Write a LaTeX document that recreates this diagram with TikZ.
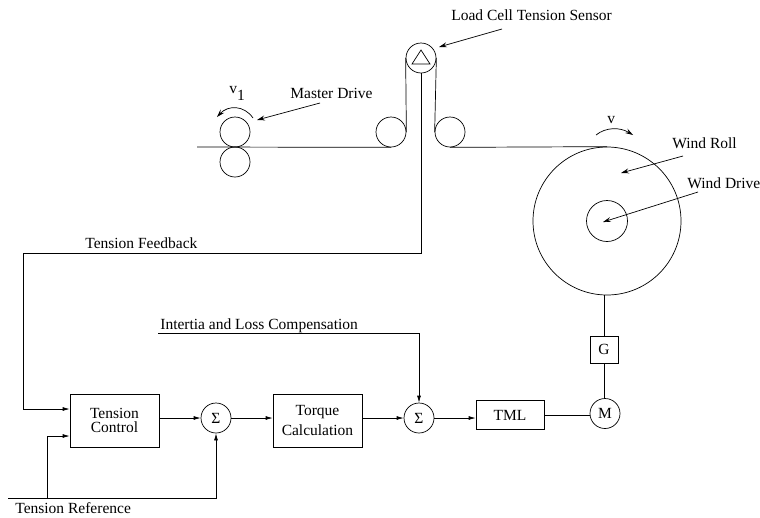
\documentclass[tikz,border=0pt]{standalone}
\usepackage{fontspec}
\setmainfont{Liberation Serif}
\usetikzlibrary{arrows.meta}
\tikzset{
blockbox/.style={draw,rectangle,inner sep=0pt},
junction/.style={draw,circle,minimum size=30pt,inner sep=0pt},
roller/.style={draw,circle,minimum size=30pt,inner sep=0pt},
signal/.style={-{Latex[length=7pt,width=4pt]}},
pointer/.style={-{Stealth[length=8pt,width=5pt,inset=3pt]}},
caption/.style={inner sep=0pt,anchor=base west}
}
\begin{document}
\begin{tikzpicture}[x=1pt,y=-1pt,line width=0.7pt,font=\fontsize{15.5}{16}\selectfont]
\useasboundingbox (0,0) rectangle (760,517);

% Rollers and web
\node[roller] (master top) at (235,132) {};
\node[roller] (master low) at (235,162) {};
\node[roller] (left idler) at (391,132) {};
\node[roller] (right idler) at (450,132) {};
\node[roller] (sensor) at (421,58) {};
\fill[white,draw=black]
(421,50)
--
(430,64)
--
(412,64)
--
cycle;

\coordinate (web start) at (197,147);
\draw (web start) -- (left idler.south);
\draw (left idler.east) -- (sensor.west);
\draw (right idler.west) -- (sensor.east);

% Wind roll
\node[draw,circle,minimum size=148pt,inner sep=0pt] (wind roll) at (607,221) {};
\node[draw,circle,minimum size=41pt,inner sep=0pt] (wind core) at (607,221) {};
\draw (right idler.south) -- (wind roll.north);

% Drive chain
\node[blockbox,minimum width=89pt,minimum height=53pt,align=center] (tension) at (114.5,420.5) {Tension\\[-2pt]Control};
\node[junction] (sum one) at (216,418) {Σ};
\node[blockbox,minimum width=89pt,minimum height=53pt,align=center] (torque) at (317.5,420.5) {Torque\\[4pt]Calculation};
\node[junction] (sum two) at (419,418) {Σ};
\node[blockbox,minimum width=68pt,minimum height=29pt] (tml) at (510,415) {TML};
\node[junction] (motor) at (605,413.5) {M};
\node[blockbox,minimum width=28pt,minimum height=27pt] (gear) at (604,349.5) {G};

\draw[signal] (tension.east |- sum one) -- (sum one);
\draw[signal] (sum one) -- (torque.west |- sum one);
\draw[signal] (torque.east |- sum two) -- (sum two);
\draw[signal] (sum two) -- (tml.west |- sum two);
\draw (tml.east) -- (motor.west |- tml.east);
\draw (motor.north -| gear) -- (gear.south);
\draw (gear.north) -- (gear |- wind roll.south);

% Feedback and references
\coordinate (ref start) at (8,498);
\coordinate (comp start) at (158,333);
\draw[signal] (sensor.south) -- (421,253) -- (23,253) -- (23,409) -- (tension.west |- 0,409);
\draw[signal] (ref start) -- (216,498) -- (sum one.south);
\draw[signal] (47,498) -- (47,436) -- (tension.west |- 0,436);
\draw[signal] (comp start) -- (419,333) -- (sum two.north);

% Labels
\node[caption] at (451,20) {Load Cell Tension Sensor};
\node[caption] (master label) at (290,98) {Master Drive};
\node[caption] (wind roll label) at (672,148) {Wind Roll};
\node[caption] (wind drive label) at (687,188) {Wind Drive};
\node[caption] at (85,248) {Tension Feedback};
\node[caption] at (160,329) {Intertia and Loss Compensation};
\node[caption] at (15,513) {Tension Reference};
\node[caption] at (229,93) {v\raisebox{-7pt}{1}};
\node[caption] at (607,123) {v};

% Pointers
\coordinate (load tail) at (502,29);
\coordinate (load tip) at (439,47);
\coordinate (master tail) at (320,103);
\coordinate (master tip) at (257,120);
\coordinate (roll tail) at (683,156);
\coordinate (roll tip) at (621,173);
\coordinate (drive tail) at (698,192);
\coordinate (drive tip) at (603,222);
\draw[pointer] (load tail) -- (load tip);
\draw[pointer] (master tail) -- (master tip);
\draw[pointer] (roll tail) -- (roll tip);
\draw[pointer] (drive tail) -- (drive tip);

% Rotation marks
\draw[pointer] (253,118) .. controls (244,105) and (228,105) .. (217,117);
\draw[pointer] (596,135) .. controls (606,127) and (620,127) .. (633,135);

\end{tikzpicture}
\end{document}
